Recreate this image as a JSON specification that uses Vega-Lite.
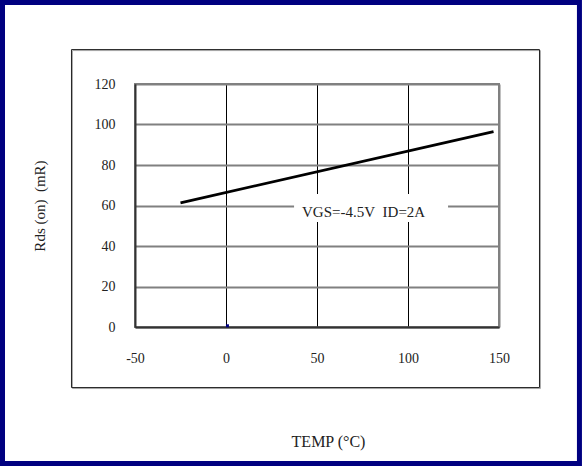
{
  "$schema": "https://vega.github.io/schema/vega-lite/v6.json",
  "autosize": "none",
  "width": 364,
  "height": 243,
  "padding": {"left": 135, "top": 84, "right": 83, "bottom": 139},
  "background": "white",
  "config": {
    "font": "Liberation Serif",
    "view": {"stroke": "#808080", "strokeWidth": 2},
    "axis": {"labelFont": "Liberation Serif", "titleFont": "Liberation Serif", "labelColor": "#222", "titleColor": "#222", "titleFontWeight": "normal", "ticks": false, "labelFlush": false}
  },
  "datasets": {
    "curve": [
      {"temp": -25, "rds": 61.3},
      {"temp": 147, "rds": 96.5}
    ],
    "marker": [
      {"temp": 0.8, "rds": 0.6}
    ],
    "note": [
      {"temp": 75.6, "rds": 56.8, "label": "VGS=-4.5V\u00a0 ID=2A"}
    ]
  },
  "layer": [
    {
      "data": {"values": [{}]},
      "mark": {"type": "rect", "fill": null, "stroke": "#000080", "strokeWidth": 5, "clip": false},
      "encoding": {
        "x": {"datum": -122.8, "type": "quantitative", "scale": {"domain": [-50, 150], "nice": false, "zero": false}},
        "x2": {"datum": 194.2},
        "y": {"datum": 160.2, "type": "quantitative", "scale": {"domain": [0, 120], "nice": false, "zero": false}},
        "y2": {"datum": -67.4}
      }
    },
    {
      "data": {"values": [{}]},
      "mark": {"type": "rect", "fill": null, "stroke": "#aaaaaa", "strokeWidth": 1, "clip": false},
      "encoding": {
        "x": {"datum": -84.35, "type": "quantitative"},
        "x2": {"datum": 172.8},
        "y": {"datum": 136.5, "type": "quantitative"},
        "y2": {"datum": -30.4}
      }
    },
    {
      "data": {"values": [{}]},
      "mark": {"type": "rect", "fill": null, "stroke": "#222222", "strokeWidth": 1, "clip": false},
      "encoding": {
        "x": {"datum": -84.9, "type": "quantitative"},
        "x2": {"datum": 172.25},
        "y": {"datum": 137.0, "type": "quantitative"},
        "y2": {"datum": -29.9}
      }
    },
    {
      "data": {"values": [{}]},
      "mark": {"type": "rect", "fill": "white", "stroke": null},
      "encoding": {
        "x": {"datum": 37.4, "type": "quantitative"},
        "x2": {"datum": 122},
        "y": {"datum": 65.7, "type": "quantitative"},
        "y2": {"datum": 51.9}
      }
    },
    {
      "data": {"name": "curve"},
      "mark": {"type": "line", "color": "black", "strokeWidth": 2.8},
      "encoding": {
        "x": {
          "field": "temp", "type": "quantitative",
          "scale": {"domain": [-50, 150], "nice": false, "zero": false},
          "axis": {
            "values": [-50, 0, 50, 100, 150],
            "labelExpr": "'' + datum.value",
            "title": "TEMP (°C)",
            "titleFontSize": 16,
            "titleX": 193,
            "titleY": 114,
            "titleBaseline": "middle",
            "labelFontSize": 14,
            "labelPadding": 24,
            "domainColor": "#333333",
            "domainWidth": 2,
            "grid": true,
            "gridColor": {"condition": {"test": "datum.value == 150", "value": "#808080"}, "value": "black"},
            "gridWidth": {"condition": {"test": "datum.value == 150", "value": 2}, "value": 1}
          }
        },
        "y": {
          "field": "rds", "type": "quantitative",
          "scale": {"domain": [0, 120], "nice": false, "zero": false},
          "axis": {
            "values": [0, 20, 40, 60, 80, 100, 120],
            "labelExpr": "'' + datum.value",
            "title": "Rds (on)\u00a0 (mR)",
            "titleFontSize": 15,
            "titleAngle": -90,
            "titleX": -95.5,
            "titleY": 121.5,
            "titleBaseline": "middle",
            "titleAlign": "center",
            "labelFontSize": 14,
            "labelPadding": 20,
            "domainColor": "#333333",
            "domainWidth": 2,
            "grid": true,
            "gridColor": "#808080",
            "gridWidth": 2
          }
        }
      }
    },
    {
      "data": {"name": "marker"},
      "mark": {"type": "point", "shape": "square", "filled": true, "color": "#000080", "size": 9, "opacity": 1},
      "encoding": {
        "x": {"field": "temp", "type": "quantitative"},
        "y": {"field": "rds", "type": "quantitative"}
      }
    },
    {
      "data": {"name": "note"},
      "mark": {"type": "text", "font": "Liberation Serif", "fontSize": 15, "color": "#222", "align": "center", "baseline": "middle"},
      "encoding": {
        "x": {"field": "temp", "type": "quantitative"},
        "y": {"field": "rds", "type": "quantitative"},
        "text": {"field": "label"}
      }
    }
  ]
}
